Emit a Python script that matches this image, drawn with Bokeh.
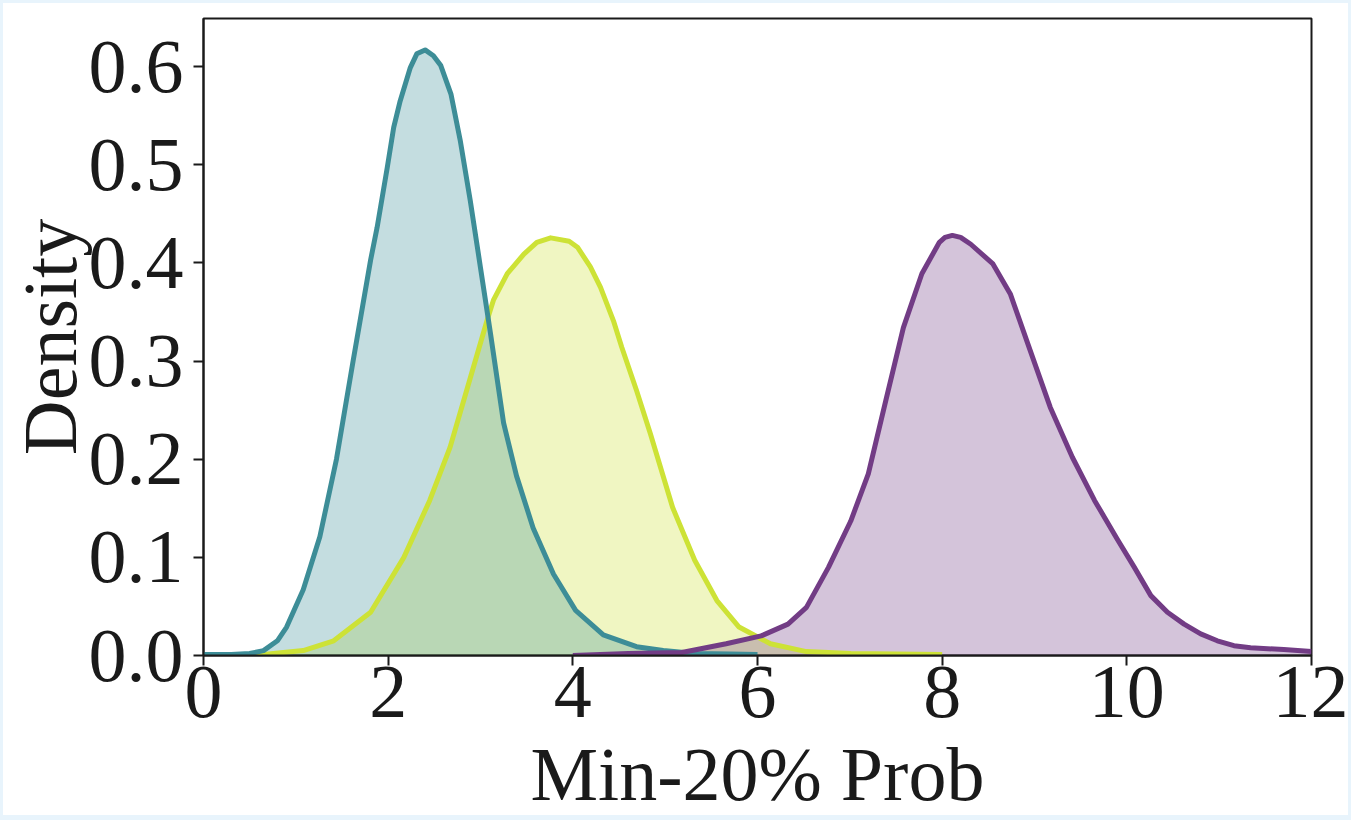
from bokeh.plotting import figure
from bokeh.models import Range1d, FixedTicker
from bokeh.embed import file_html
from bokeh.resources import INLINE

# ---- data ----
teal_x = [0.0, 0.3, 0.5, 0.65, 0.8, 0.9, 1.08, 1.26, 1.44, 1.62, 1.81, 1.88, 1.99, 2.06, 2.13,
          2.24, 2.31, 2.40, 2.49, 2.57, 2.68, 2.78, 2.89, 3.0, 3.11, 3.25, 3.39, 3.57, 3.79,
          4.03, 4.33, 4.69, 4.98, 5.32, 5.7, 6.0]
teal_y = [0.001, 0.001, 0.002, 0.005, 0.015, 0.029, 0.067, 0.121, 0.200, 0.300, 0.403, 0.436,
          0.497, 0.538, 0.565, 0.599, 0.613, 0.617, 0.611, 0.601, 0.572, 0.525, 0.463, 0.395,
          0.327, 0.237, 0.183, 0.130, 0.083, 0.046, 0.021, 0.009, 0.005, 0.002, 0.0015, 0.001]

yellow_x = [0.0, 0.4, 0.65, 1.08, 1.41, 1.81, 2.17, 2.45, 2.67, 2.89, 3.07, 3.14, 3.29, 3.47,
            3.61, 3.76, 3.96, 4.05, 4.19, 4.30, 4.44, 4.53, 4.69, 4.84, 5.08, 5.32, 5.56, 5.80,
            6.14, 6.53, 7.01, 7.5, 8.0]
yellow_y = [0.0, 0.0003, 0.001, 0.005, 0.015, 0.044, 0.100, 0.158, 0.212, 0.283, 0.341, 0.362,
            0.389, 0.409, 0.421, 0.4255, 0.422, 0.416, 0.396, 0.375, 0.341, 0.314, 0.270, 0.226,
            0.151, 0.097, 0.056, 0.029, 0.012, 0.004, 0.002, 0.0015, 0.001]

purple_x = [4.0, 4.6, 5.18, 5.66, 6.04, 6.33, 6.53, 6.77, 7.01, 7.20, 7.39, 7.58, 7.78, 7.97,
            8.03, 8.11, 8.20, 8.31, 8.55, 8.74, 8.93, 9.17, 9.41, 9.65, 9.90, 10.08, 10.26,
            10.44, 10.62, 10.80, 10.98, 11.16, 11.34, 11.70, 12.0]
purple_y = [0.0, 0.002, 0.003, 0.012, 0.020, 0.032, 0.049, 0.090, 0.137, 0.185, 0.260, 0.334,
            0.389, 0.421, 0.426, 0.428, 0.426, 0.419, 0.399, 0.368, 0.317, 0.253, 0.202, 0.158,
            0.118, 0.090, 0.061, 0.044, 0.032, 0.022, 0.015, 0.010, 0.008, 0.006, 0.004]

x_ticks = [0, 2, 4, 6, 8, 10, 12]
x_tick_labels = ["0", "2", "4", "6", "8", "10", "12"]
y_ticks = [0.0, 0.1, 0.2, 0.3, 0.4, 0.5, 0.6]
y_tick_labels = ["0.0", "0.1", "0.2", "0.3", "0.4", "0.5", "0.6"]

x_label = "Min-20% Prob"
y_label = "Density"

series = [
    (yellow_x, yellow_y, "#cde236"),
    (teal_x, teal_y, "#3d8d97"),
    (purple_x, purple_y, "#723c85"),
]

FONT = "Liberation Serif"
INK = "#1a1a1a"

p = figure(width=1351, height=820, output_backend="svg", toolbar_location=None,
           x_range=Range1d(0, 12), y_range=Range1d(0, 0.649),
           min_border_left=200, min_border_right=43, min_border_top=15, min_border_bottom=168)
p.styles = {"border": "3px solid #e8f4fc", "border-bottom-width": "5px"}

for xs, ys, col in series:
    p.varea(x=xs, y1=[0] * len(ys), y2=ys, fill_color=col, fill_alpha=0.3)
for xs, ys, col in series:
    p.line(x=xs, y=ys, line_color=col, line_width=5, line_join="round")

p.xgrid.visible = False
p.ygrid.visible = False
p.background_fill_color = "white"
p.border_fill_color = "white"
p.outline_line_color = INK
p.outline_line_width = 2

p.xaxis.ticker = FixedTicker(ticks=x_ticks)
p.yaxis.ticker = FixedTicker(ticks=y_ticks)
p.xaxis.major_label_overrides = dict(zip(x_ticks, x_tick_labels))
p.yaxis.major_label_overrides = dict(zip(y_ticks, y_tick_labels))

for ax in (p.xaxis[0], p.yaxis[0]):
    ax.axis_line_color = INK
    ax.axis_line_width = 2
    ax.major_tick_line_color = INK
    ax.major_tick_line_width = 2
    ax.major_tick_out = 10
    ax.major_tick_in = 0
    ax.minor_tick_line_color = None
    ax.major_label_text_font = FONT
    ax.major_label_text_font_size = "76px"
    ax.major_label_text_color = INK
    ax.axis_label_text_font = FONT
    ax.axis_label_text_font_size = "76px"
    ax.axis_label_text_font_style = "normal"
    ax.axis_label_text_color = INK

p.xaxis.axis_label = x_label
p.yaxis.axis_label = y_label
p.xaxis.major_label_standoff = 1
p.yaxis.major_label_standoff = 10
p.xaxis.axis_label_standoff = 12
p.yaxis.axis_label_standoff = -6

open("out.html", "w").write(file_html(p, INLINE))
